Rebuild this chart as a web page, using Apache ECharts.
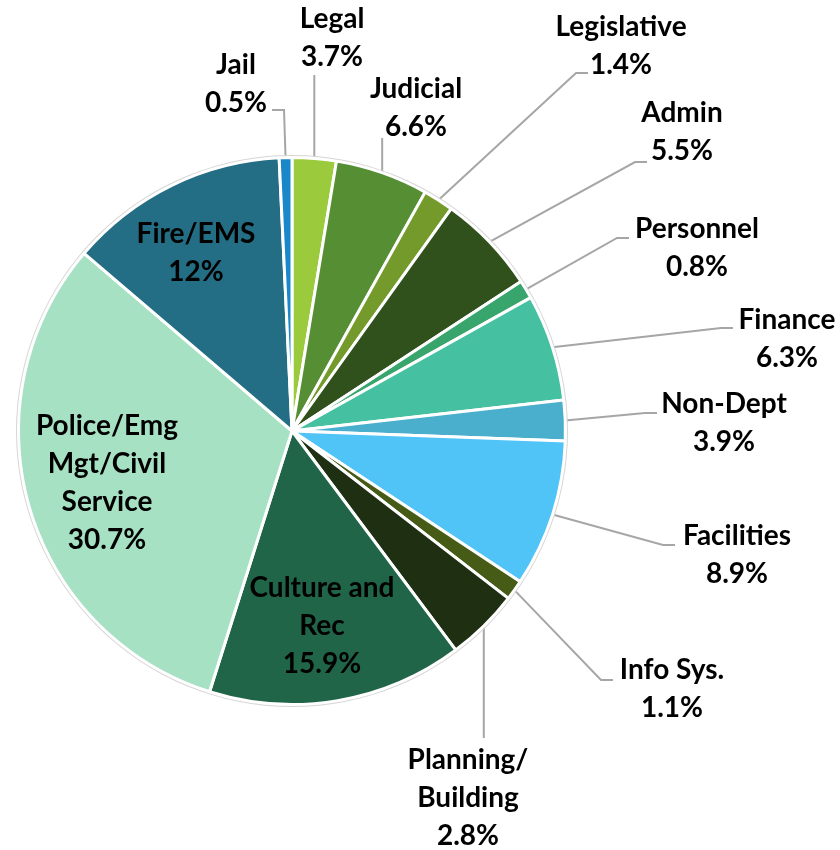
<!DOCTYPE html>
<html>
<head>
<meta charset="utf-8">
<script src="https://cdn.jsdelivr.net/npm/echarts@6/dist/echarts.min.js"></script>
<style>
html, body { margin: 0; padding: 0; background: #fff; }
#chart { width: 840px; height: 850px; }
</style>
</head>
<body>
<div id="chart"></div>
<script>
// departments, clockwise from 12 o'clock
var departments = ['Legal', 'Judicial', 'Legislative', 'Admin', 'Personnel', 'Finance', 'Non-Dept',
	'Facilities', 'Info Sys.', 'Planning/\nBuilding', 'Culture and\nRec',
	'Police/Emg\nMgt/Civil\nService', 'Fire/EMS', 'Jail'];
// slice sizes as drawn (% of the circle)
var shares = [2.6, 5.5, 1.8, 5.9, 1.1, 6.3, 2.4, 8.7, 1.2, 4.3, 15.1, 31.4, 13.0, 0.75];
// percentages printed on the labels
var pctText = ['3.7%', '6.6%', '1.4%', '5.5%', '0.8%', '6.3%', '3.9%', '8.9%', '1.1%', '2.8%',
	'15.9%', '30.7%', '12%', '0.5%'];

var colors = ['#9bcb3c', '#558e33', '#739a2a', '#31511c', '#38a66c', '#45c1a1', '#4aafcd',
	'#50c3f7', '#455b16', '#1f3012', '#216548', '#a7e1c4', '#236e84', '#1a87c9'];
var insideLabels = [10, 11, 12];
// label block centres
var labelPos = [[332, 38], [416, 108], [621, 46], [682, 132], [697, 248], [787, 339], [724, 423],
	[737, 555], [672, 689], [468, 798], [322, 626], [107, 483], [196, 253], [236, 84]];
// leader line ends: ['v', y] straight up/down from the slice, ['h', x, y, dir] with a short flat stub
var leaders = [['v', 75], ['v', 138], ['h', 588, 73, -1], ['h', 647, 162, -1], ['h', 629, 238, -1],
	['h', 733, 328, -1], ['h', 657, 413, -1], ['h', 675, 545, -1], ['h', 613, 680, -1], ['v', 738],
	null, null, null, ['h', 272, 110, 1]];

var data = departments.map(function (name, i) {
	var item = { name: name, value: shares[i], itemStyle: { color: colors[i] } };
	if (insideLabels.indexOf(i) >= 0) {
		item.label = { position: 'inside' };
		item.labelLine = { show: false };
	}
	return item;
});

var chart = echarts.init(document.getElementById('chart'));
chart.setOption({
	animation: false,
	series: [{
		type: 'pie',
		center: [292, 431],
		radius: 273.5,
		startAngle: 90,
		clockwise: true,
		avoidLabelOverlap: false,
		itemStyle: { borderColor: '#fff', borderWidth: 3 },
		label: {
			position: 'outside',
			fontFamily: 'Lato',
			fontWeight: 'bold',
			fontSize: 28,
			lineHeight: 38,
			color: '#000',
			overflow: 'none',
			formatter: function (p) {
				return departments[p.dataIndex] + '\n' + pctText[p.dataIndex];
			}
		},
		labelLine: {
			show: true,
			length: 20,
			length2: 12,
			lineStyle: { color: '#a6a6a6', width: 2 }
		},
		labelLayout: function (p) {
			var pos = labelPos[p.dataIndex];
			var out = { x: pos[0], y: pos[1], align: 'center', verticalAlign: 'middle' };
			var ld = leaders[p.dataIndex];
			if (ld && p.labelLinePoints) {
				// start where the library puts it: outer edge at the slice middle
				var s = p.labelLinePoints[0];
				if (ld[0] === 'v') {
					out.labelLinePoints = [[s[0], s[1]], [s[0], ld[1]], [s[0], ld[1]]];
				} else {
					out.labelLinePoints = [[s[0], s[1]], [ld[1] + ld[3] * 12, ld[2]], [ld[1], ld[2]]];
				}
			}
			return out;
		},
		emphasis: { disabled: true },
		data: data
	}, {
		// faint outline round the pie
		type: 'pie',
		center: [292, 431],
		radius: [275, 276],
		silent: true,
		label: { show: false },
		labelLine: { show: false },
		itemStyle: { color: '#d6d6d6' },
		data: [{ value: 1 }]
	}]
});
</script>
</body>
</html>
